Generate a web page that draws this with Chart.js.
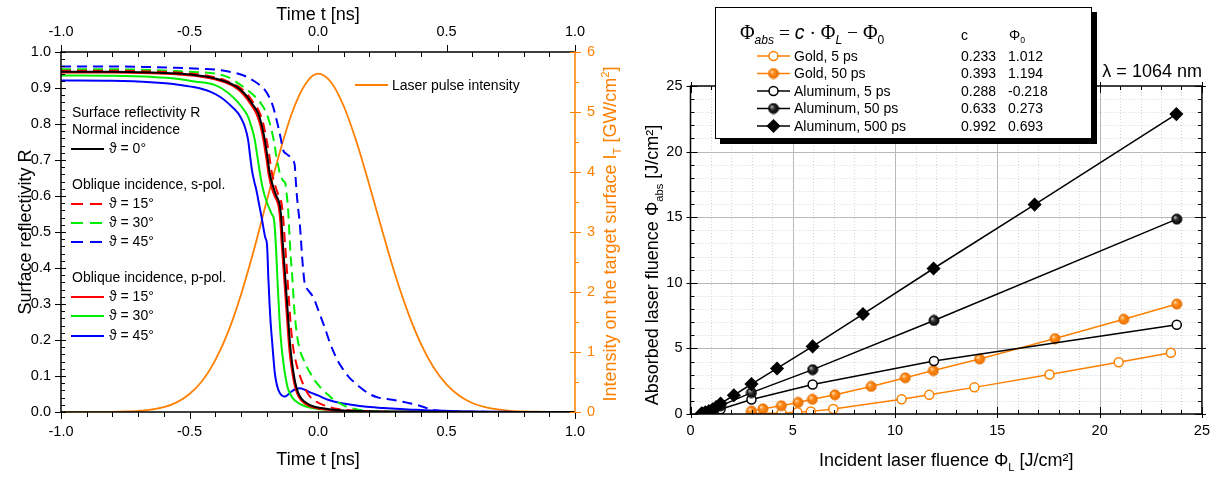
<!DOCTYPE html>
<html>
<head>
<meta charset="utf-8">
<script src="https://cdn.jsdelivr.net/npm/chart.js@4.4.1/dist/chart.umd.min.js"></script>
<style>
  body { margin: 0; background: #fff; }
  #left { position: absolute; left: 0; top: 0; }
  #right { position: absolute; left: 630px; top: 0; }
</style>
</head>
<body>
<canvas id="left" width="630" height="478"></canvas>
<canvas id="right" width="588" height="478"></canvas>
<script>
// ---------- left panel data: reflectivity vs time, [t (ns), R] ----------
const rNormal0 = [[-1.0,0.945],[-0.8,0.945],[-0.65,0.943],[-0.55,0.94],[-0.48,0.936],[-0.42,0.93],[-0.36,0.918],[-0.32,0.905],[-0.285,0.884],[-0.255,0.855],[-0.233,0.83],[-0.22,0.8],[-0.207,0.756],[-0.197,0.71],[-0.188,0.664],[-0.175,0.627],[-0.162,0.6],[-0.155,0.59],[-0.148,0.572],[-0.142,0.53],[-0.138,0.48],[-0.133,0.43],[-0.128,0.38],[-0.122,0.32],[-0.116,0.26],[-0.11,0.2],[-0.104,0.155],[-0.097,0.117],[-0.088,0.08],[-0.077,0.053],[-0.062,0.035],[-0.045,0.025],[-0.02,0.016],[0.013,0.011],[0.05,0.007],[0.1,0.004],[0.2,0.002],[0.4,0.001],[1.0,0.0]];
const rS15 = [[-1.0,0.948],[-0.8,0.948],[-0.65,0.946],[-0.55,0.943],[-0.48,0.939],[-0.42,0.933],[-0.36,0.921],[-0.32,0.908],[-0.28,0.887],[-0.25,0.858],[-0.228,0.833],[-0.214,0.804],[-0.201,0.76],[-0.19,0.715],[-0.181,0.67],[-0.168,0.632],[-0.155,0.605],[-0.148,0.594],[-0.141,0.576],[-0.135,0.535],[-0.13,0.485],[-0.125,0.435],[-0.12,0.385],[-0.115,0.33],[-0.11,0.28],[-0.104,0.225],[-0.097,0.18],[-0.088,0.145],[-0.077,0.115],[-0.064,0.088],[-0.048,0.062],[-0.028,0.04],[0.0,0.026],[0.03,0.017],[0.07,0.009],[0.12,0.005],[0.2,0.002],[0.4,0.0],[1.0,0.0]];
const rS30 = [[-1.0,0.952],[-0.8,0.952],[-0.65,0.95],[-0.55,0.947],[-0.47,0.944],[-0.4,0.94],[-0.35,0.93],[-0.298,0.907],[-0.27,0.892],[-0.246,0.877],[-0.225,0.86],[-0.207,0.84],[-0.193,0.815],[-0.181,0.784],[-0.171,0.75],[-0.162,0.71],[-0.155,0.685],[-0.149,0.664],[-0.142,0.65],[-0.136,0.643],[-0.127,0.634],[-0.122,0.605],[-0.117,0.571],[-0.113,0.52],[-0.11,0.479],[-0.106,0.43],[-0.101,0.386],[-0.097,0.34],[-0.093,0.293],[-0.087,0.245],[-0.08,0.205],[-0.07,0.17],[-0.058,0.148],[-0.045,0.127],[-0.03,0.108],[-0.013,0.088],[0.005,0.072],[0.02,0.06],[0.039,0.048],[0.06,0.035],[0.085,0.024],[0.11,0.015],[0.14,0.009],[0.18,0.004],[0.25,0.0015],[0.4,0.0],[1.0,0.0]];
const rS45 = [[-1.0,0.96],[-0.8,0.96],[-0.65,0.958],[-0.55,0.956],[-0.45,0.953],[-0.4,0.951],[-0.324,0.942],[-0.28,0.932],[-0.246,0.918],[-0.225,0.907],[-0.207,0.895],[-0.19,0.875],[-0.175,0.849],[-0.165,0.822],[-0.155,0.793],[-0.145,0.76],[-0.136,0.728],[-0.123,0.717],[-0.11,0.71],[-0.1,0.7],[-0.091,0.688],[-0.087,0.65],[-0.084,0.617],[-0.078,0.57],[-0.071,0.525],[-0.066,0.475],[-0.062,0.432],[-0.057,0.39],[-0.052,0.358],[-0.045,0.345],[-0.035,0.335],[-0.024,0.325],[-0.013,0.31],[0.0,0.285],[0.013,0.26],[0.026,0.235],[0.045,0.195],[0.059,0.17],[0.08,0.138],[0.1,0.116],[0.12,0.097],[0.145,0.08],[0.165,0.068],[0.2,0.05],[0.235,0.04],[0.27,0.036],[0.305,0.032],[0.345,0.026],[0.383,0.02],[0.41,0.014],[0.435,0.008],[0.46,0.004],[0.5,0.002],[0.6,0.0008],[0.8,0.0],[1.0,0.0]];
const rP15 = [[-1.0,0.943],[-0.8,0.943],[-0.65,0.941],[-0.55,0.938],[-0.48,0.934],[-0.42,0.927],[-0.36,0.915],[-0.32,0.901],[-0.29,0.882],[-0.26,0.853],[-0.238,0.826],[-0.224,0.795],[-0.211,0.75],[-0.201,0.705],[-0.192,0.66],[-0.18,0.622],[-0.167,0.597],[-0.159,0.585],[-0.152,0.566],[-0.146,0.525],[-0.142,0.475],[-0.137,0.425],[-0.132,0.375],[-0.126,0.315],[-0.12,0.255],[-0.114,0.195],[-0.108,0.15],[-0.1,0.11],[-0.091,0.075],[-0.08,0.05],[-0.065,0.032],[-0.048,0.022],[-0.02,0.013],[0.013,0.008],[0.05,0.005],[0.1,0.003],[0.2,0.001],[0.4,0.0],[1.0,0.0]];
const rP30 = [[-1.0,0.935],[-0.8,0.934],[-0.65,0.931],[-0.55,0.926],[-0.48,0.918],[-0.4,0.908],[-0.35,0.887],[-0.311,0.86],[-0.285,0.836],[-0.272,0.82],[-0.258,0.79],[-0.246,0.756],[-0.236,0.71],[-0.226,0.664],[-0.216,0.625],[-0.207,0.6],[-0.195,0.575],[-0.18,0.55],[-0.171,0.534],[-0.167,0.5],[-0.163,0.45],[-0.159,0.386],[-0.154,0.315],[-0.149,0.248],[-0.143,0.19],[-0.136,0.145],[-0.127,0.1],[-0.117,0.065],[-0.1,0.04],[-0.077,0.025],[-0.05,0.016],[-0.012,0.01],[0.03,0.006],[0.08,0.003],[0.15,0.001],[0.3,0.0],[1.0,0.0]];
const rP45 = [[-1.0,0.921],[-0.8,0.92],[-0.65,0.916],[-0.55,0.91],[-0.48,0.902],[-0.42,0.89],[-0.38,0.875],[-0.35,0.858],[-0.311,0.83],[-0.295,0.81],[-0.285,0.793],[-0.272,0.756],[-0.264,0.71],[-0.257,0.672],[-0.248,0.64],[-0.24,0.617],[-0.23,0.58],[-0.22,0.543],[-0.212,0.51],[-0.205,0.484],[-0.199,0.469],[-0.196,0.43],[-0.194,0.386],[-0.191,0.34],[-0.188,0.293],[-0.184,0.245],[-0.179,0.2],[-0.174,0.155],[-0.168,0.108],[-0.16,0.075],[-0.149,0.053],[-0.139,0.045],[-0.129,0.043],[-0.117,0.048],[-0.103,0.057],[-0.085,0.064],[-0.071,0.066],[-0.05,0.061],[-0.026,0.053],[0.0,0.046],[0.039,0.034],[0.08,0.026],[0.123,0.021],[0.18,0.015],[0.253,0.011],[0.32,0.008],[0.383,0.006],[0.45,0.004],[0.513,0.003],[0.6,0.0015],[0.7,0.0008],[0.8,0.0],[1.0,0.0]];

// laser pulse intensity on the target (GW/cm²)
const tPulse = [-1.0,-0.95,-0.9,-0.85,-0.8,-0.75,-0.7,-0.65,-0.6,-0.55,-0.5,-0.45,-0.4,-0.35,-0.3,-0.25,-0.2,-0.15,-0.1,-0.05,0.0,0.05,0.1,0.15,0.2,0.25,0.3,0.35,0.4,0.45,0.5,0.55,0.6,0.65,0.7,0.75,0.8,0.85,0.9,0.95,1.0];
const iPulse = [0,0,0,0.001,0.003,0.008,0.018,0.04,0.08,0.16,0.30,0.52,0.86,1.33,1.95,2.69,3.51,4.31,5.00,5.46,5.64,5.50,5.10,4.50,3.78,3.02,2.29,1.66,1.14,0.74,0.46,0.27,0.15,0.082,0.042,0.020,0.009,0.004,0.002,0.001,0];

const timeTicks = [-1.0, -0.5, 0.0, 0.5, 1.0];
const reflTicks = [0, 0.1, 0.2, 0.3, 0.4, 0.5, 0.6, 0.7, 0.8, 0.9, 1.0];
const intensTicks = [0, 1, 2, 3, 4, 5, 6];

// ---------- right panel data: absorbed vs incident fluence (J/cm²) ----------
const goldFluence5 = [2.98, 4.45, 5.22, 5.88, 6.98, 10.32, 11.67, 13.88, 17.55, 20.93, 23.48];
const goldAbs5 = [0.06, 0.08, 0.13, 0.2, 0.38, 1.13, 1.46, 2.03, 3.01, 3.95, 4.67];
const goldFluence50 = [2.98, 3.54, 4.44, 5.26, 5.96, 7.06, 8.83, 10.5, 11.87, 14.13, 17.82, 21.18, 23.77];
const goldAbs50 = [0.22, 0.4, 0.63, 0.88, 1.12, 1.46, 2.1, 2.76, 3.31, 4.19, 5.75, 7.22, 8.38];
const alFluence5 = [0.75, 1.47, 2.98, 5.97, 11.9, 23.77];
const alAbs5 = [0.08, 0.36, 1.1, 2.25, 4.04, 6.8];
const alFluence50 = [0.6, 0.85, 1.15, 1.47, 2.98, 5.97, 11.9, 23.77];
const alAbs50 = [0.07, 0.18, 0.38, 0.62, 1.63, 3.38, 7.13, 14.85];
const alFluence500 = [0.55, 0.72, 0.9, 1.08, 1.25, 1.47, 2.12, 2.98, 4.23, 5.97, 8.43, 11.88, 16.82, 23.75];
const alAbs500 = [0.05, 0.12, 0.22, 0.35, 0.52, 0.8, 1.43, 2.28, 3.47, 5.15, 7.62, 11.09, 15.96, 22.86];

const fitLabels = ['Gold, 5 ps', 'Gold, 50 ps', 'Aluminum, 5 ps', 'Aluminum, 50 ps', 'Aluminum, 500 ps'];
const fitC = ['0.233', '0.393', '0.288', '0.633', '0.992'];
const fitPhi0 = ['1.012', '1.194', '-0.218', '0.273', '0.693'];
const fluenceTicks = [0, 5, 10, 15, 20, 25];

// ---------- styling ----------
const SANS = '"Liberation Sans", Arial, Helvetica, sans-serif';
const SERIF = '"Liberation Serif", "Times New Roman", serif';
const ORANGE = '#ff8000';
const TICKFONT = { family: SANS, size: 14.5 };
const DASH = [10, 6];

const xy = pts => pts.map(p => ({ x: p[0], y: p[1] }));
const zip = (xs, ys) => xs.map((v, i) => ({ x: v, y: ys[i] }));
const fixTicks = arr => scale => { scale.ticks = arr.map(v => ({ value: v })); };

// text with sub/superscripts; parts: [text, mode(0 normal,1 sub,2 sup), style, family, size]
function richText(ctx, parts, x, y, size, rotate, color, align) {
  ctx.save();
  ctx.translate(x, y);
  if (rotate) ctx.rotate(-Math.PI / 2);
  ctx.fillStyle = color;
  ctx.textBaseline = 'alphabetic';
  ctx.textAlign = 'left';
  const fonts = parts.map(p => {
    const base = p[4] || size;
    const s = p[1] ? base * 0.62 : base;
    return ((p[2] || '') + ' ' + s + 'px ' + (p[3] || SANS)).trim();
  });
  let w = 0;
  parts.forEach((p, i) => { ctx.font = fonts[i]; w += ctx.measureText(p[0]).width; });
  let cx = align === 'left' ? 0 : -w / 2;
  parts.forEach((p, i) => {
    ctx.font = fonts[i];
    const dy = p[1] === 1 ? size * 0.24 : (p[1] === 2 ? -size * 0.4 : 0);
    ctx.fillText(p[0], cx, size * 0.36 + dy);
    cx += ctx.measureText(p[0]).width;
  });
  ctx.restore();
}

function refl(label, pts, color, dashed) {
  return {
    label: label, data: xy(pts), borderColor: color, backgroundColor: color,
    borderWidth: 2, borderDash: dashed ? DASH : [], pointRadius: 0,
    cubicInterpolationMode: 'monotone', xAxisID: 'x', yAxisID: 'y'
  };
}

// ---------- left chart ----------
const leftRows = [{ ds: 0, y: 149 }, { ds: 1, y: 204 }, { ds: 2, y: 223 }, { ds: 3, y: 242 },
                  { ds: 4, y: 297 }, { ds: 5, y: 316 }, { ds: 6, y: 336 }];

const leftDecor = {
  id: 'leftDecor',
  afterDatasetsDraw(chart) {
    const ctx = chart.ctx, a = chart.chartArea;
    const sx = chart.scales.x, sy = chart.scales.y, sy2 = chart.scales.y2;
    ctx.save();
    ctx.strokeStyle = '#000';
    ctx.lineWidth = 1.5;
    ctx.beginPath();
    ctx.moveTo(a.right, a.top); ctx.lineTo(a.left, a.top);
    ctx.lineTo(a.left, a.bottom); ctx.lineTo(a.right, a.bottom);
    ctx.stroke();
    ctx.lineWidth = 1;
    ctx.beginPath();
    for (let i = -10; i <= 10; i++) {
      const px = Math.round(sx.getPixelForValue(i / 10)) + 0.5;
      const major = i % 5 === 0;
      ctx.moveTo(px, a.bottom); ctx.lineTo(px, a.bottom + (major ? 7 : 5));
      if (major) { ctx.moveTo(px, a.top); ctx.lineTo(px, a.top - 7); }
      else { ctx.moveTo(px, a.top); ctx.lineTo(px, a.top + 5); }
    }
    for (let i = 0; i <= 50; i++) {
      const py = Math.round(sy.getPixelForValue(i / 50)) + 0.5;
      if (i % 5 === 0) { ctx.moveTo(a.left - 6, py); ctx.lineTo(a.left + 5, py); }
      else { ctx.moveTo(a.left, py); ctx.lineTo(a.left + 4, py); }
    }
    ctx.stroke();
    ctx.strokeStyle = ORANGE;
    ctx.lineWidth = 1.5;
    ctx.beginPath(); ctx.moveTo(a.right, a.top - 1); ctx.lineTo(a.right, a.bottom + 1); ctx.stroke();
    ctx.lineWidth = 1;
    ctx.beginPath();
    for (let i = 0; i <= 12; i++) {
      const py = Math.round(sy2.getPixelForValue(i / 2)) + 0.5;
      if (i % 2 === 0) { ctx.moveTo(a.right - 5, py); ctx.lineTo(a.right + 6, py); }
      else { ctx.moveTo(a.right, py); ctx.lineTo(a.right + 4, py); }
    }
    ctx.stroke();
    ctx.restore();
  },
  afterDraw(chart) {
    const ctx = chart.ctx, a = chart.chartArea;
    const midX = (a.left + a.right) / 2, midY = (a.top + a.bottom) / 2;
    richText(ctx, [['Time t [ns]']], midX, 14, 18, false, '#000');
    richText(ctx, [['Time t [ns]']], midX, 459, 18, false, '#000');
    richText(ctx, [['Surface reflectivity R']], 25, midY, 18, true, '#000');
    richText(ctx, [['Intensity on the target surface I'], ['T', 1], [' [GW/cm'], ['2', 2], [']']],
             610, midY + 2, 18, true, ORANGE);

    ctx.save();
    ctx.font = '14px ' + SANS;
    ctx.fillStyle = '#000';
    ctx.textBaseline = 'middle';
    ctx.fillText('Surface reflectivity R', 72, 113);
    ctx.fillText('Normal incidence', 72, 130);
    ctx.fillText('Oblique incidence, s-pol.', 72, 185);
    ctx.fillText('Oblique incidence, p-pol.', 72, 278);
    leftRows.forEach(r => {
      const ds = chart.data.datasets[r.ds];
      ctx.strokeStyle = ds.borderColor;
      ctx.lineWidth = 2;
      ctx.setLineDash(ds.borderDash.length ? [12, 7] : []);
      ctx.beginPath(); ctx.moveTo(71, r.y); ctx.lineTo(104, r.y); ctx.stroke();
      ctx.fillText(ds.label, 109, r.y);
    });
    const pulseDs = chart.data.datasets[7];
    ctx.setLineDash([]);
    ctx.strokeStyle = ORANGE;
    ctx.lineWidth = 1.8;
    ctx.beginPath(); ctx.moveTo(355, 85); ctx.lineTo(388, 85); ctx.stroke();
    ctx.fillText(pulseDs.label, 392, 86);
    ctx.restore();
  }
};

new Chart(document.getElementById('left'), {
  type: 'line',
  data: {
    datasets: [
      refl('ϑ = 0°', rNormal0, '#000000', false),
      refl('ϑ = 15°', rS15, '#ff0000', true),
      refl('ϑ = 30°', rS30, '#00ee00', true),
      refl('ϑ = 45°', rS45, '#0000ff', true),
      refl('ϑ = 15°', rP15, '#ff0000', false),
      refl('ϑ = 30°', rP30, '#00ee00', false),
      refl('ϑ = 45°', rP45, '#0000ff', false),
      {
        label: 'Laser pulse intensity', data: zip(tPulse, iPulse), borderColor: ORANGE,
        borderWidth: 1.8, pointRadius: 0, cubicInterpolationMode: 'monotone',
        xAxisID: 'x', yAxisID: 'y2'
      }
    ]
  },
  options: {
    responsive: false,
    animation: false,
    layout: { padding: 0 },
    plugins: { legend: { display: false }, tooltip: { enabled: false } },
    scales: {
      x: {
        type: 'linear', position: 'bottom', min: -1, max: 1,
        afterBuildTicks: fixTicks(timeTicks),
        afterFit: s => { s.height = 66; },
        grid: { display: false, drawTicks: false }, border: { display: false },
        ticks: { padding: 11, font: TICKFONT, color: '#000', maxRotation: 0, autoSkip: false, callback: v => v.toFixed(1) }
      },
      x2: {
        type: 'linear', position: 'top', min: -1, max: 1,
        afterBuildTicks: fixTicks(timeTicks),
        afterFit: s => { s.height = 52; },
        grid: { display: false, drawTicks: false }, border: { display: false },
        ticks: { padding: 11, font: TICKFONT, color: '#000', maxRotation: 0, autoSkip: false, callback: v => v.toFixed(1) }
      },
      y: {
        type: 'linear', position: 'left', min: 0, max: 1,
        afterBuildTicks: fixTicks(reflTicks),
        afterFit: s => { s.width = 61; },
        grid: { display: false, drawTicks: false }, border: { display: false },
        ticks: { padding: 10, font: TICKFONT, color: '#000', callback: v => v.toFixed(1) }
      },
      y2: {
        type: 'linear', position: 'right', min: 0, max: 6,
        afterBuildTicks: fixTicks(intensTicks),
        afterFit: s => { s.width = 55; },
        grid: { display: false, drawTicks: false }, border: { display: false },
        ticks: { padding: 12, font: TICKFONT, color: ORANGE, callback: v => String(v) }
      }
    }
  },
  plugins: [leftDecor]
});

// ---------- right chart ----------
function sphere(base, mid, light, r) {
  const c = document.createElement('canvas');
  const d = Math.ceil(2 * r + 2);
  c.width = d; c.height = d;
  const g = c.getContext('2d');
  const m = d / 2;
  const grd = g.createRadialGradient(m - r * 0.4, m - r * 0.4, 0.2, m, m, r);
  grd.addColorStop(0, light);
  grd.addColorStop(0.4, mid);
  grd.addColorStop(1, base);
  g.fillStyle = grd;
  g.beginPath(); g.arc(m, m, r, 0, Math.PI * 2); g.fill();
  g.strokeStyle = base; g.lineWidth = 1; g.stroke();
  return c;
}
const orangeBall = sphere('#e87000', '#ff8c1a', '#ffe6c8', 5);
const blackBall = sphere('#000000', '#333333', '#d0d0d0', 5);

function series(label, xs, ys, color, style, fill, radius) {
  return {
    label: label, data: zip(xs, ys), borderColor: color, borderWidth: 1.5,
    pointStyle: style, pointRadius: radius, pointBackgroundColor: fill,
    pointBorderColor: color, pointBorderWidth: 1.5, tension: 0
  };
}

const rightDatasets = [
  series(fitLabels[4], alFluence500, alAbs500, '#000', 'rectRot', '#000', 6),
  series(fitLabels[3], alFluence50, alAbs50, '#000', blackBall, '#000', 5),
  series(fitLabels[2], alFluence5, alAbs5, '#000', 'circle', '#fff', 4.5),
  series(fitLabels[1], goldFluence50, goldAbs50, ORANGE, orangeBall, ORANGE, 5),
  series(fitLabels[0], goldFluence5, goldAbs5, ORANGE, 'circle', '#fff', 4.5)
];

function drawMarker(ctx, ds, x, y) {
  const st = ds.pointStyle;
  if (typeof st === 'object') {
    ctx.drawImage(st, x - st.width / 2, y - st.height / 2);
    return;
  }
  ctx.beginPath();
  if (st === 'rectRot') {
    const r = ds.pointRadius;
    ctx.moveTo(x, y - r); ctx.lineTo(x + r, y); ctx.lineTo(x, y + r); ctx.lineTo(x - r, y); ctx.closePath();
  } else {
    ctx.arc(x, y, ds.pointRadius, 0, Math.PI * 2);
  }
  ctx.fillStyle = ds.pointBackgroundColor;
  ctx.fill();
  ctx.lineWidth = 1.5;
  ctx.strokeStyle = ds.pointBorderColor;
  ctx.stroke();
}

const rightDecor = {
  id: 'rightDecor',
  beforeDatasetsDraw(chart) {
    const ctx = chart.ctx, a = chart.chartArea, sx = chart.scales.x, sy = chart.scales.y;
    ctx.save();
    ctx.lineWidth = 1;
    for (let i = 1; i < 25; i++) {
      const major = i % 5 === 0;
      ctx.strokeStyle = major ? '#b8b8b8' : '#d6d6d6';
      ctx.setLineDash(major ? [] : [1, 2]);
      const px = Math.round(sx.getPixelForValue(i)) + 0.5;
      const py = Math.round(sy.getPixelForValue(i)) + 0.5;
      ctx.beginPath();
      ctx.moveTo(px, a.top); ctx.lineTo(px, a.bottom);
      ctx.moveTo(a.left, py); ctx.lineTo(a.right, py);
      ctx.stroke();
    }
    ctx.restore();
  },
  afterDatasetsDraw(chart) {
    const ctx = chart.ctx, a = chart.chartArea, sx = chart.scales.x, sy = chart.scales.y;
    ctx.save();
    ctx.strokeStyle = '#000';
    ctx.lineWidth = 1.5;
    ctx.strokeRect(a.left, a.top, a.right - a.left, a.bottom - a.top);
    ctx.lineWidth = 1;
    ctx.beginPath();
    for (let i = 0; i <= 25; i++) {
      const major = i % 5 === 0;
      const inn = major ? 7 : 4, out = major ? 4 : 0;
      const px = Math.round(sx.getPixelForValue(i)) + 0.5;
      const py = Math.round(sy.getPixelForValue(i)) + 0.5;
      ctx.moveTo(px, a.bottom + out); ctx.lineTo(px, a.bottom - inn);
      ctx.moveTo(px, a.top - out); ctx.lineTo(px, a.top + inn);
      ctx.moveTo(a.left - out, py); ctx.lineTo(a.left + inn, py);
      ctx.moveTo(a.right + out, py); ctx.lineTo(a.right - inn, py);
    }
    ctx.stroke();
    ctx.restore();
  },
  afterDraw(chart) {
    const ctx = chart.ctx, a = chart.chartArea;
    const midX = (a.left + a.right) / 2, midY = (a.top + a.bottom) / 2;
    richText(ctx, [['Incident laser fluence Φ'], ['L', 1], [' [J/cm²]']], midX, 460, 18, false, '#000');
    richText(ctx, [['Absorbed laser fluence Φ'], ['abs', 1], [' [J/cm²]']], 22, midY + 15, 18, true, '#000');

    ctx.save();
    ctx.font = '18px ' + SANS;
    ctx.fillStyle = '#000';
    ctx.textAlign = 'right';
    ctx.textBaseline = 'middle';
    ctx.fillText('λ = 1064 nm', a.right, 72);

    // legend box with shadow
    const bx = 85, by = 7, bw = 377, bh = 132;
    ctx.fillStyle = '#000';
    ctx.fillRect(bx + 5, by + 5, bw, bh);
    ctx.fillStyle = '#fff';
    ctx.fillRect(bx, by, bw, bh);
    ctx.strokeStyle = '#000';
    ctx.lineWidth = 1;
    ctx.strokeRect(bx + 0.5, by + 0.5, bw - 1, bh - 1);
    ctx.restore();

    richText(ctx, [['Φ', 0, '', SERIF, 20], ['abs', 1, 'italic', SANS], [' = ', 0, '', SERIF],
                   ['c', 0, 'italic', SANS], [' · ', 0, '', SERIF], ['Φ', 0, '', SERIF, 20],
                   ['L', 1, 'italic', SANS], [' − ', 0, '', SERIF], ['Φ', 0, '', SERIF, 20], ['0', 1, '', SANS]],
             110, 32, 19.5, false, '#000', 'left');
    richText(ctx, [['c']], 331, 35, 14, false, '#000', 'left');
    richText(ctx, [['Φ'], ['0', 1]], 379, 35, 14, false, '#000', 'left');

    const rowY = [56, 73.5, 91, 108.5, 126];
    ctx.save();
    ctx.font = '14px ' + SANS;
    ctx.textBaseline = 'middle';
    ctx.textAlign = 'left';
    fitLabels.forEach((lab, i) => {
      const ds = chart.data.datasets[4 - i];
      const y = rowY[i];
      ctx.strokeStyle = ds.borderColor;
      ctx.lineWidth = 1.5;
      ctx.beginPath(); ctx.moveTo(127, y); ctx.lineTo(160, y); ctx.stroke();
      drawMarker(ctx, ds, 143.5, y);
      ctx.fillStyle = '#000';
      ctx.fillText(lab, 164, y + 1);
      ctx.fillText(fitC[i], 331, y + 1);
      ctx.fillText(fitPhi0[i], 378, y + 1);
    });
    ctx.restore();
  }
};

new Chart(document.getElementById('right'), {
  type: 'line',
  data: { datasets: rightDatasets },
  options: {
    responsive: false,
    animation: false,
    layout: { padding: { top: 86, right: 13, left: 0, bottom: 0 } },
    plugins: { legend: { display: false }, tooltip: { enabled: false } },
    scales: {
      x: {
        type: 'linear', position: 'bottom', min: 0, max: 25,
        afterBuildTicks: fixTicks(fluenceTicks),
        afterFit: s => { s.height = 64; },
        grid: { display: false, drawTicks: false }, border: { display: false },
        ticks: { padding: 8, font: TICKFONT, color: '#000', maxRotation: 0, autoSkip: false }
      },
      y: {
        type: 'linear', position: 'left', min: 0, max: 25,
        afterBuildTicks: fixTicks(fluenceTicks),
        afterFit: s => { s.width = 60.5; },
        grid: { display: false, drawTicks: false }, border: { display: false },
        ticks: { padding: 8, font: TICKFONT, color: '#000' }
      }
    }
  },
  plugins: [rightDecor]
});
</script>
</body>
</html>
